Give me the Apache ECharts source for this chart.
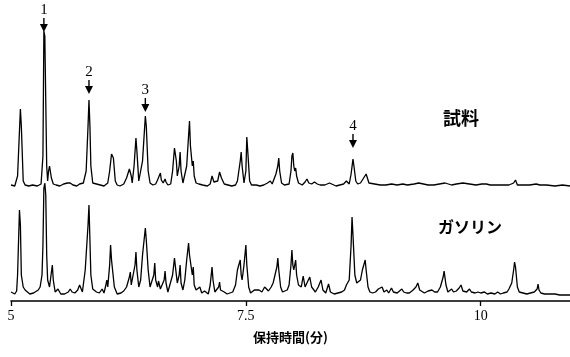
<!DOCTYPE html>
<html>
<head>
<meta charset="utf-8">
<script src="https://cdn.jsdelivr.net/npm/echarts@6/dist/echarts.min.js"></script>
<style>
  html, body { margin: 0; padding: 0; background: #fff; }
  #chart { width: 570px; height: 357px; }
</style>
</head>
<body>
<div id="chart"></div>
<script>
// retention time (min) and detector signal
const sampleTime = [5.00,5.04,5.06,5.07,5.10,5.11,5.13,5.15,5.19,5.23,5.28,5.32,5.34,5.35,5.36,5.37,5.38,5.39,5.40,5.41,5.43,5.45,5.48,5.52,5.56,5.60,5.63,5.66,5.70,5.73,5.77,5.80,5.82,5.83,5.84,5.85,5.87,5.89,5.91,5.95,5.99,6.03,6.05,6.07,6.09,6.11,6.13,6.16,6.20,6.23,6.26,6.27,6.28,6.29,6.31,6.33,6.34,6.36,6.38,6.40,6.43,6.44,6.46,6.48,6.51,6.54,6.56,6.59,6.60,6.62,6.64,6.65,6.67,6.70,6.72,6.74,6.76,6.77,6.79,6.80,6.81,6.83,6.85,6.87,6.89,6.90,6.91,6.93,6.94,6.95,6.97,7.00,7.04,7.09,7.12,7.14,7.15,7.16,7.18,7.20,7.22,7.23,7.24,7.27,7.31,7.35,7.39,7.41,7.44,7.45,7.46,7.48,7.50,7.51,7.52,7.54,7.56,7.61,7.65,7.69,7.73,7.76,7.78,7.80,7.82,7.84,7.85,7.86,7.88,7.91,7.96,7.98,7.99,8.00,8.01,8.02,8.03,8.04,8.06,8.10,8.13,8.15,8.17,8.20,8.23,8.26,8.29,8.34,8.39,8.41,8.46,8.50,8.54,8.57,8.60,8.62,8.64,8.65,8.67,8.69,8.72,8.74,8.78,8.79,8.81,8.83,8.87,8.93,8.99,9.05,9.11,9.17,9.22,9.29,9.34,9.36,9.44,9.50,9.56,9.62,9.64,9.69,9.74,9.81,9.83,9.88,9.95,10.01,10.06,10.10,10.16,10.23,10.30,10.35,10.37,10.39,10.45,10.52,10.59,10.61,10.63,10.70,10.79,10.87,10.95];
const sampleSignal = [1,0,1,10,77,60,5,1,0,1,0,2,30,155,150,150,20,5,15,20,8,2,1,0,2,3,3,1,0,2,3,15,60,86,60,20,3,5,2,1,0,3,15,32,28,5,1,0,2,8,17,19,10,3,20,48,35,5,4,25,70,60,15,3,1,2,6,13,6,3,7,4,1,2,15,38,25,10,20,34,15,3,5,20,50,65,40,20,25,10,3,2,1,0,2,10,12,4,3,5,14,16,8,2,1,0,1,5,25,34,20,3,15,49,35,5,1,1,0,1,3,5,2,7,12,20,28,15,3,1,2,15,30,33,20,15,18,10,3,1,4,7,3,2,4,2,1,1,3,1,0,1,2,5,2,12,27,20,5,2,3,3,12,10,3,1,2,1,1,2,1,2,1,2,3,1,1,1,2,3,1,1,2,3,1,2,1,2,2,1,1,1,1,3,6,1,1,1,2,3,1,1,0,1,0];

const gasolineTime = [5.00,5.04,5.06,5.07,5.09,5.10,5.11,5.13,5.15,5.17,5.20,5.24,5.29,5.31,5.33,5.34,5.35,5.36,5.37,5.38,5.39,5.41,5.44,5.45,5.47,5.50,5.53,5.57,5.61,5.63,5.65,5.68,5.71,5.73,5.76,5.79,5.82,5.83,5.84,5.85,5.87,5.89,5.91,5.94,5.97,5.99,6.01,6.02,6.03,6.05,6.06,6.07,6.10,6.13,6.17,6.20,6.23,6.26,6.27,6.28,6.30,6.32,6.33,6.34,6.36,6.38,6.40,6.43,6.44,6.46,6.48,6.50,6.52,6.53,6.54,6.56,6.57,6.59,6.61,6.63,6.64,6.65,6.67,6.69,6.72,6.74,6.76,6.77,6.79,6.80,6.81,6.83,6.85,6.87,6.89,6.90,6.93,6.94,6.95,6.97,6.99,7.01,7.03,7.06,7.10,7.12,7.14,7.15,7.17,7.19,7.21,7.22,7.23,7.27,7.30,7.33,7.36,7.39,7.41,7.44,7.45,7.46,7.48,7.50,7.51,7.53,7.55,7.59,7.61,7.64,7.67,7.70,7.72,7.74,7.77,7.79,7.81,7.83,7.84,7.85,7.87,7.89,7.91,7.94,7.96,7.98,7.99,8.00,8.01,8.03,8.04,8.06,8.09,8.11,8.13,8.15,8.18,8.20,8.22,8.24,8.27,8.30,8.32,8.35,8.38,8.40,8.44,8.48,8.52,8.55,8.57,8.60,8.62,8.63,8.64,8.66,8.68,8.70,8.72,8.74,8.77,8.78,8.80,8.82,8.85,8.88,8.91,8.95,8.97,9.00,9.02,9.05,9.07,9.11,9.13,9.16,9.18,9.21,9.24,9.28,9.31,9.33,9.35,9.37,9.40,9.44,9.46,9.48,9.51,9.54,9.57,9.60,9.61,9.63,9.65,9.67,9.69,9.71,9.74,9.77,9.79,9.81,9.83,9.85,9.88,9.90,9.94,9.97,10.00,10.04,10.07,10.11,10.15,10.18,10.21,10.24,10.28,10.30,10.32,10.33,10.35,10.36,10.37,10.39,10.41,10.45,10.49,10.53,10.57,10.60,10.61,10.62,10.64,10.68,10.73,10.79,10.84,10.89,10.95];
const gasolineSignal = [3,1,4,20,85,70,20,8,5,3,1,2,5,8,20,50,107,112,100,40,15,8,30,15,3,6,1,1,3,6,3,2,5,10,3,25,70,90,55,20,6,8,3,2,6,2,10,15,8,30,50,35,8,1,2,4,8,18,23,10,8,30,43,25,8,15,40,67,55,25,8,6,20,32,15,8,14,6,5,15,24,12,3,5,20,37,20,12,20,30,12,5,15,35,52,40,20,28,10,5,3,8,2,4,1,10,28,15,3,2,8,13,5,3,1,2,3,10,25,35,20,15,30,50,30,8,2,5,3,5,3,8,10,4,8,12,20,28,37,25,8,3,2,5,10,30,45,30,25,35,20,10,8,19,8,10,18,8,6,3,8,15,5,2,11,3,1,2,3,5,10,15,50,78,60,20,12,10,15,25,35,25,8,3,2,3,6,8,3,5,2,7,3,2,4,6,3,2,2,5,8,12,5,3,2,4,2,5,3,3,8,18,24,10,3,3,6,3,4,7,10,4,2,3,6,3,2,3,2,3,1,2,1,3,1,2,3,6,5,12,25,33,28,8,3,2,1,2,3,6,11,5,2,1,1,1,0,0,0];

// numbered peaks on the sample trace
const peakLabels = ["1", "2", "3", "4"];
const peakTimes = [5.35, 5.83, 6.43, 8.64];
const peakArrowAt = [154, 92, 74, 38];

const tickValues = [5, 7.5, 10];

const SAMPLE_BASE = 115;
const GAS_BASE = 6;

function pairs(t, s, base) {
    return t.map((x, i) => [x, s[i] + base]);
}

const arrowPath = "path://M3.3,0 L4.7,0 L4.7,6 L8,6 L4,14 L0,6 L3.3,6 Z";

const chart = echarts.init(document.getElementById("chart"), null, { renderer: "canvas" });
chart.setOption({
    animation: false,
    backgroundColor: "#fff",
    grid: { left: 11, right: 0, top: 0, bottom: 56 },
    xAxis: {
        type: "value",
        min: 5,
        max: 10.95,
        interval: 2.5,
        name: "保持時間(分)",
        nameLocation: "middle",
        nameGap: 30,
        nameTextStyle: {
            fontFamily: "Noto Sans CJK JP",
            fontSize: 13,
            fontWeight: "bold",
            color: "#000"
        },
        axisLine: { lineStyle: { color: "#000", width: 1.6 } },
        axisTick: { show: true, length: 5, customValues: tickValues, lineStyle: { color: "#000", width: 1.3 } },
        axisLabel: {
            customValues: tickValues,
            margin: 8,
            fontFamily: "Liberation Serif",
            fontSize: 14,
            color: "#000"
        },
        splitLine: { show: false }
    },
    yAxis: { type: "value", min: 0, max: 301, show: false },
    series: [
        {
            name: "試料",
            type: "line",
            data: pairs(sampleTime, sampleSignal, SAMPLE_BASE),
            symbol: "none",
            lineStyle: { color: "#000", width: 1.3 },
            markPoint: {
                symbol: arrowPath,
                symbolSize: [8, 14],
                symbolOffset: [0, -7],
                itemStyle: { color: "#000" },
                label: {
                    show: true,
                    position: "top",
                    distance: 0,
                    fontFamily: "Liberation Serif",
                    fontSize: 15,
                    color: "#000",
                    formatter: p => p.name
                },
                data: peakLabels.map((n, i) => ({
                    name: n,
                    coord: [peakTimes[i], peakArrowAt[i] + SAMPLE_BASE]
                }))
            }
        },
        {
            name: "ガソリン",
            type: "line",
            data: pairs(gasolineTime, gasolineSignal, GAS_BASE),
            symbol: "none",
            lineStyle: { color: "#000", width: 1.3 }
        }
    ],
    graphic: [
        {
            type: "text", left: 443, top: 109,
            style: { text: "試料", font: "bold 18px 'Noto Sans CJK JP'", fill: "#000" }
        },
        {
            type: "text", left: 438, top: 219,
            style: { text: "ガソリン", font: "bold 16px 'Noto Sans CJK JP'", fill: "#000" }
        }
    ]
});
</script>
</body>
</html>
